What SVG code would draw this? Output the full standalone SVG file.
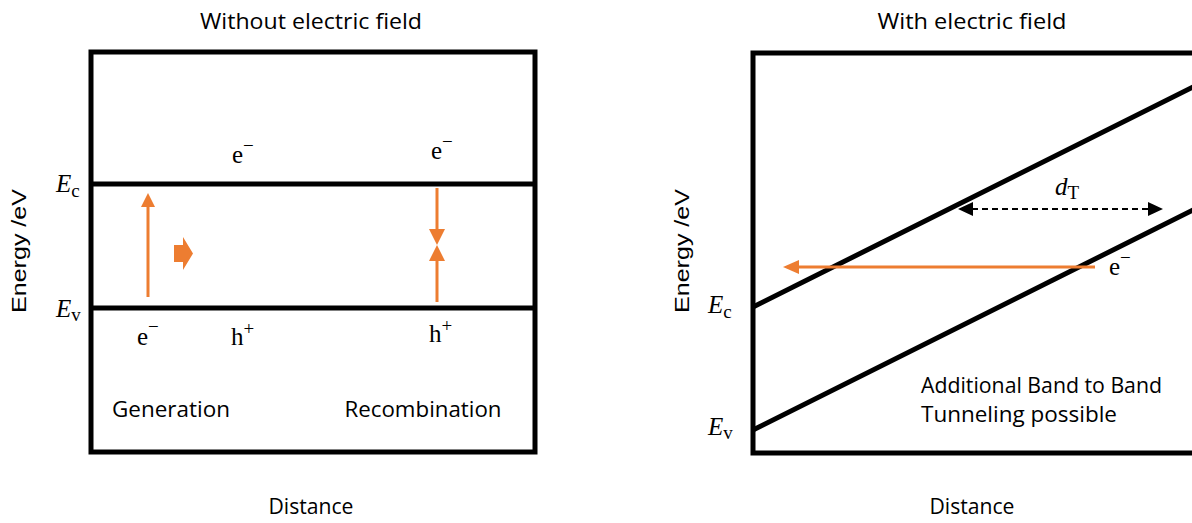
<svg xmlns="http://www.w3.org/2000/svg" width="1192" height="523" viewBox="0 0 1192 523">
<style>
.frame{fill:none;stroke:#000;stroke-width:5}
.band{stroke:#000;stroke-width:5;fill:none}
.or{stroke:#ED7D31;stroke-width:3;fill:none}
.orf{fill:#ED7D31}
.lbl{font-family:"Open Sans","Lato",sans-serif;font-size:21.5px;fill:#000}
.ax{font-family:"Liberation Sans",Arial,sans-serif;font-size:20px;fill:#000}
.m{font-family:"Liberation Serif","DejaVu Serif",serif;font-size:25px;fill:#000}
.it{font-style:italic}
.sub{font-size:19px}
</style>
<rect width="1192" height="523" fill="#fff"/>
<g id="left-panel">
  <text class="lbl" x="311" y="29" text-anchor="middle" textLength="222" lengthAdjust="spacingAndGlyphs">Without electric field</text>
  <rect class="frame" x="91" y="52" width="444" height="400"/>
  <line class="band" x1="91" y1="184" x2="535" y2="184"/>
  <line class="band" x1="91" y1="308" x2="535" y2="308"/>
  <text class="m" x="56" y="192"><tspan class="it">E</tspan><tspan class="sub" dy="5">c</tspan></text>
  <text class="m" x="56" y="317"><tspan class="it">E</tspan><tspan class="sub" dy="4">v</tspan></text>
  <text class="ax" transform="translate(26,251) rotate(-90)" text-anchor="middle" textLength="124" lengthAdjust="spacingAndGlyphs">Energy /eV</text>
  <text class="lbl" x="311" y="514" text-anchor="middle" textLength="85" lengthAdjust="spacingAndGlyphs">Distance</text>
</g>
<g id="generation">
  <line class="or" x1="148" y1="297" x2="148" y2="205"/>
  <polygon class="orf" points="141,207 155,207 148,193"/>
  <polygon class="orf" points="174,245 183,245 183,237 193,253.5 183,270 183,262 174,262"/>
  <text class="m" x="232" y="163">e<tspan class="sub" dy="-11">−</tspan></text>
  <text class="m" x="137" y="345">e<tspan class="sub" dy="-12">−</tspan></text>
  <text class="m" x="231" y="345">h<tspan class="sub" dy="-10">+</tspan></text>
  <text class="lbl" x="171" y="417" text-anchor="middle" textLength="118" lengthAdjust="spacingAndGlyphs">Generation</text>
</g>
<g id="recombination">
  <line class="or" x1="437" y1="188" x2="437" y2="231"/>
  <polygon class="orf" points="429,229 445,229 437,245"/>
  <line class="or" x1="437" y1="302" x2="437" y2="259"/>
  <polygon class="orf" points="429,261 445,261 437,245"/>
  <text class="m" x="431" y="159">e<tspan class="sub" dy="-11">−</tspan></text>
  <text class="m" x="429" y="342">h<tspan class="sub" dy="-10">+</tspan></text>
  <text class="lbl" x="423" y="417" text-anchor="middle" textLength="157" lengthAdjust="spacingAndGlyphs">Recombination</text>
</g>
<g id="right-panel">
  <text class="lbl" x="972" y="29" text-anchor="middle" textLength="189" lengthAdjust="spacingAndGlyphs">With electric field</text>
  <path class="frame" d="M1200 53 H753 V453 H1200"/>
  <line class="band" x1="753" y1="307" x2="1200" y2="83.5"/>
  <line class="band" x1="753" y1="430" x2="1200" y2="206.5"/>
  <text class="m" x="708" y="313"><tspan class="it">E</tspan><tspan class="sub" dy="5">c</tspan></text>
  <text class="m" x="708" y="435"><tspan class="it">E</tspan><tspan class="sub" dy="4">v</tspan></text>
  <text class="ax" transform="translate(689,251) rotate(-90)" text-anchor="middle" textLength="124" lengthAdjust="spacingAndGlyphs">Energy /eV</text>
  <text class="lbl" x="972" y="514" text-anchor="middle" textLength="85" lengthAdjust="spacingAndGlyphs">Distance</text>
  <text class="lbl" x="921" y="393" textLength="241" lengthAdjust="spacingAndGlyphs">Additional Band to Band</text>
  <text class="lbl" x="921" y="422" textLength="196" lengthAdjust="spacingAndGlyphs">Tunneling possible</text>
</g>
<g id="connectors">
  <line x1="972" y1="209" x2="1150" y2="209" stroke="#000" stroke-width="2" stroke-dasharray="6,4"/>
  <polygon points="973,202 973,216 958,209" fill="#000"/>
  <polygon points="1148,202 1148,216 1163,209" fill="#000"/>
  <line class="or" x1="1095" y1="267" x2="797" y2="267"/>
  <polygon class="orf" points="799,260 799,274 783,267"/>
</g>
<g id="labels-right">
  <text class="m" x="1055" y="195"><tspan class="it">d</tspan><tspan class="sub" dy="4">T</tspan></text>
  <text class="m" x="1109" y="275">e<tspan class="sub" dy="-11">−</tspan></text>
</g>
</svg>
